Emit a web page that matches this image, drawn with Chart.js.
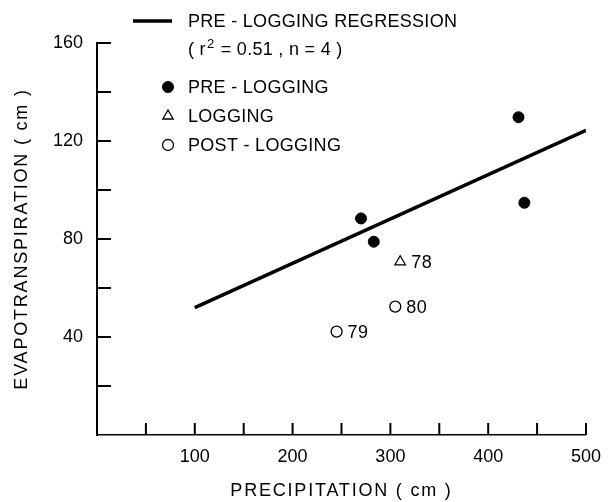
<!DOCTYPE html>
<html lang="en">
<head>
<meta charset="UTF-8">
<title>Evapotranspiration vs Precipitation</title>
<script src="https://cdn.jsdelivr.net/npm/chart.js@4"></script>
<style>
  body { margin: 0; background: #fff; }
  .wrap { width: 612px; height: 502px; }
</style>
</head>
<body>
<div class="wrap"><canvas id="etChart" width="612" height="502"></canvas></div>
<script>
// values (cm)
const regX = [100, 500];
const regY = [52, 124.4];
const preX = [270, 283, 431, 437];
const preY = [88.4, 78.9, 129.7, 94.8];
const logX = [310];
const logY = [70.7];
const logYears = ['78'];
const postX = [245, 305];
const postY = [42.2, 52.4];
const postYears = ['79', '80'];

const regName = 'PRE - LOGGING REGRESSION';
const regStats = ['( r', '2', ' = 0.51 , n = 4 )'];
const seriesNames = ['PRE - LOGGING', 'LOGGING', 'POST - LOGGING'];

const FONT = "'Liberation Sans', Arial, sans-serif";
const toPts = (xs, ys) => xs.map((v, i) => ({ x: v, y: ys[i] }));

const preStyle = { pointStyle: 'circle', radius: 5.5, borderWidth: 1, rotation: 0, fill: '#000' };
const logStyle = { pointStyle: 'triangle', radius: 6, borderWidth: 1.3, rotation: 0, fill: '#fff' };
const postStyle = { pointStyle: 'circle', radius: 5.5, borderWidth: 1.3, rotation: 0, fill: '#fff' };

// wider lettering for the axis titles, normal for tick labels (drawn after datasets)
const spacing = {
  id: 'spacing',
  beforeDraw(chart) { chart.ctx.letterSpacing = '1.8px'; },
  afterDatasetsDraw(chart) { chart.ctx.letterSpacing = '0px'; }
};

// tick marks point into the plot
const inwardTicks = {
  id: 'inwardTicks',
  afterDatasetsDraw(chart) {
    const { ctx, chartArea, scales: { x, y } } = chart;
    ctx.save();
    ctx.strokeStyle = '#000';
    ctx.lineWidth = 2;
    ctx.beginPath();
    x.ticks.forEach(t => {
      if (t.value === 0) return;
      const px = x.getPixelForValue(t.value);
      ctx.moveTo(px, chartArea.bottom);
      ctx.lineTo(px, chartArea.bottom - 12);
    });
    y.ticks.forEach(t => {
      if (t.value === 0) return;
      const py = y.getPixelForValue(t.value);
      ctx.moveTo(chartArea.left, py);
      ctx.lineTo(chartArea.left + 14, py);
    });
    ctx.stroke();
    ctx.restore();
  }
};

// year labels beside the logging / post-logging points
const yearLabels = {
  id: 'yearLabels',
  afterDatasetsDraw(chart) {
    const { ctx } = chart;
    ctx.save();
    ctx.letterSpacing = '0.5px';
    ctx.fillStyle = '#000';
    ctx.font = `18px ${FONT}`;
    ctx.textAlign = 'left';
    ctx.textBaseline = 'middle';
    [[2, logYears], [3, postYears]].forEach(([di, names]) => {
      chart.getDatasetMeta(di).data.forEach((pt, i) => {
        ctx.fillText(names[i], pt.x + 11, pt.y + 1);
      });
    });
    ctx.restore();
  }
};

const legendBox = {
  id: 'legendBox',
  afterDraw(chart) {
    const { ctx } = chart;
    const h = Chart.helpers;
    ctx.save();
    ctx.letterSpacing = '0.3px';
    ctx.fillStyle = '#000';
    ctx.strokeStyle = '#000';
    ctx.font = `18px ${FONT}`;
    ctx.textAlign = 'left';
    ctx.textBaseline = 'middle';

    ctx.lineWidth = 3.5;
    ctx.beginPath();
    ctx.moveTo(133, 21);
    ctx.lineTo(172, 21);
    ctx.stroke();
    ctx.fillText(regName, 188, 22);

    let tx = 188;
    ctx.fillText(regStats[0], tx, 50);
    tx += ctx.measureText(regStats[0]).width + 1;
    ctx.font = `13px ${FONT}`;
    ctx.fillText(regStats[1], tx, 44);
    tx += ctx.measureText(regStats[1]).width + 1;
    ctx.font = `18px ${FONT}`;
    ctx.fillText(regStats[2], tx, 50);

    const rows = [[preStyle, 87], [logStyle, 116], [postStyle, 145]];
    rows.forEach(([st, yy], i) => {
      ctx.fillStyle = st.fill;
      ctx.lineWidth = st.borderWidth;
      h.drawPoint(ctx, st, 168, yy);
      ctx.fillStyle = '#000';
      ctx.fillText(seriesNames[i], 188, yy + 1);
    });
    ctx.restore();
  }
};

new Chart(document.getElementById('etChart'), {
  type: 'scatter',
  data: {
    datasets: [
      {
        type: 'line',
        label: regName,
        data: toPts(regX, regY),
        borderColor: '#000',
        borderWidth: 3.5,
        pointRadius: 0,
        fill: false
      },
      {
        label: seriesNames[0],
        data: toPts(preX, preY),
        pointStyle: 'circle',
        pointRadius: preStyle.radius,
        backgroundColor: '#000',
        borderColor: '#000',
        borderWidth: 1
      },
      {
        label: seriesNames[1],
        data: toPts(logX, logY),
        pointStyle: 'triangle',
        pointRadius: logStyle.radius,
        backgroundColor: '#fff',
        borderColor: '#000',
        borderWidth: logStyle.borderWidth
      },
      {
        label: seriesNames[2],
        data: toPts(postX, postY),
        pointStyle: 'circle',
        pointRadius: postStyle.radius,
        backgroundColor: '#fff',
        borderColor: '#000',
        borderWidth: postStyle.borderWidth
      }
    ]
  },
  options: {
    responsive: false,
    animation: false,
    layout: { padding: { top: 43, right: 24, left: 0, bottom: 0 } },
    plugins: {
      legend: { display: false },
      tooltip: { enabled: false }
    },
    scales: {
      x: {
        type: 'linear',
        min: 0,
        max: 500,
        afterFit(s) { s.height = 67; },
        grid: { display: false, drawTicks: false, tickLength: 0 },
        border: { display: true, color: '#000', width: 1.5 },
        ticks: {
          stepSize: 50,
          autoSkip: false,
          maxRotation: 0,
          padding: 11,
          color: '#000',
          z: 1,
          font: { family: FONT, size: 18 },
          callback: v => (v > 0 && v % 100 === 0) ? v : ''
        },
        title: {
          display: true,
          text: 'PRECIPITATION ( cm )',
          color: '#000',
          font: { family: FONT, size: 18 },
          padding: { top: 0, bottom: 0 }
        }
      },
      y: {
        type: 'linear',
        min: 0,
        max: 160,
        afterFit(s) { s.width = 97; },
        grid: { display: false, drawTicks: false, tickLength: 0 },
        border: { display: true, color: '#000', width: 2 },
        ticks: {
          stepSize: 20,
          autoSkip: false,
          padding: 14,
          color: '#000',
          z: 1,
          font: { family: FONT, size: 18 },
          callback: v => (v > 0 && v % 40 === 0) ? v : ''
        },
        title: {
          display: true,
          text: 'EVAPOTRANSPIRATION ( cm )',
          color: '#000',
          font: { family: FONT, size: 18 },
          padding: { top: 11, bottom: 0 }
        }
      }
    }
  },
  plugins: [spacing, inwardTicks, yearLabels, legendBox]
});
</script>
</body>
</html>
